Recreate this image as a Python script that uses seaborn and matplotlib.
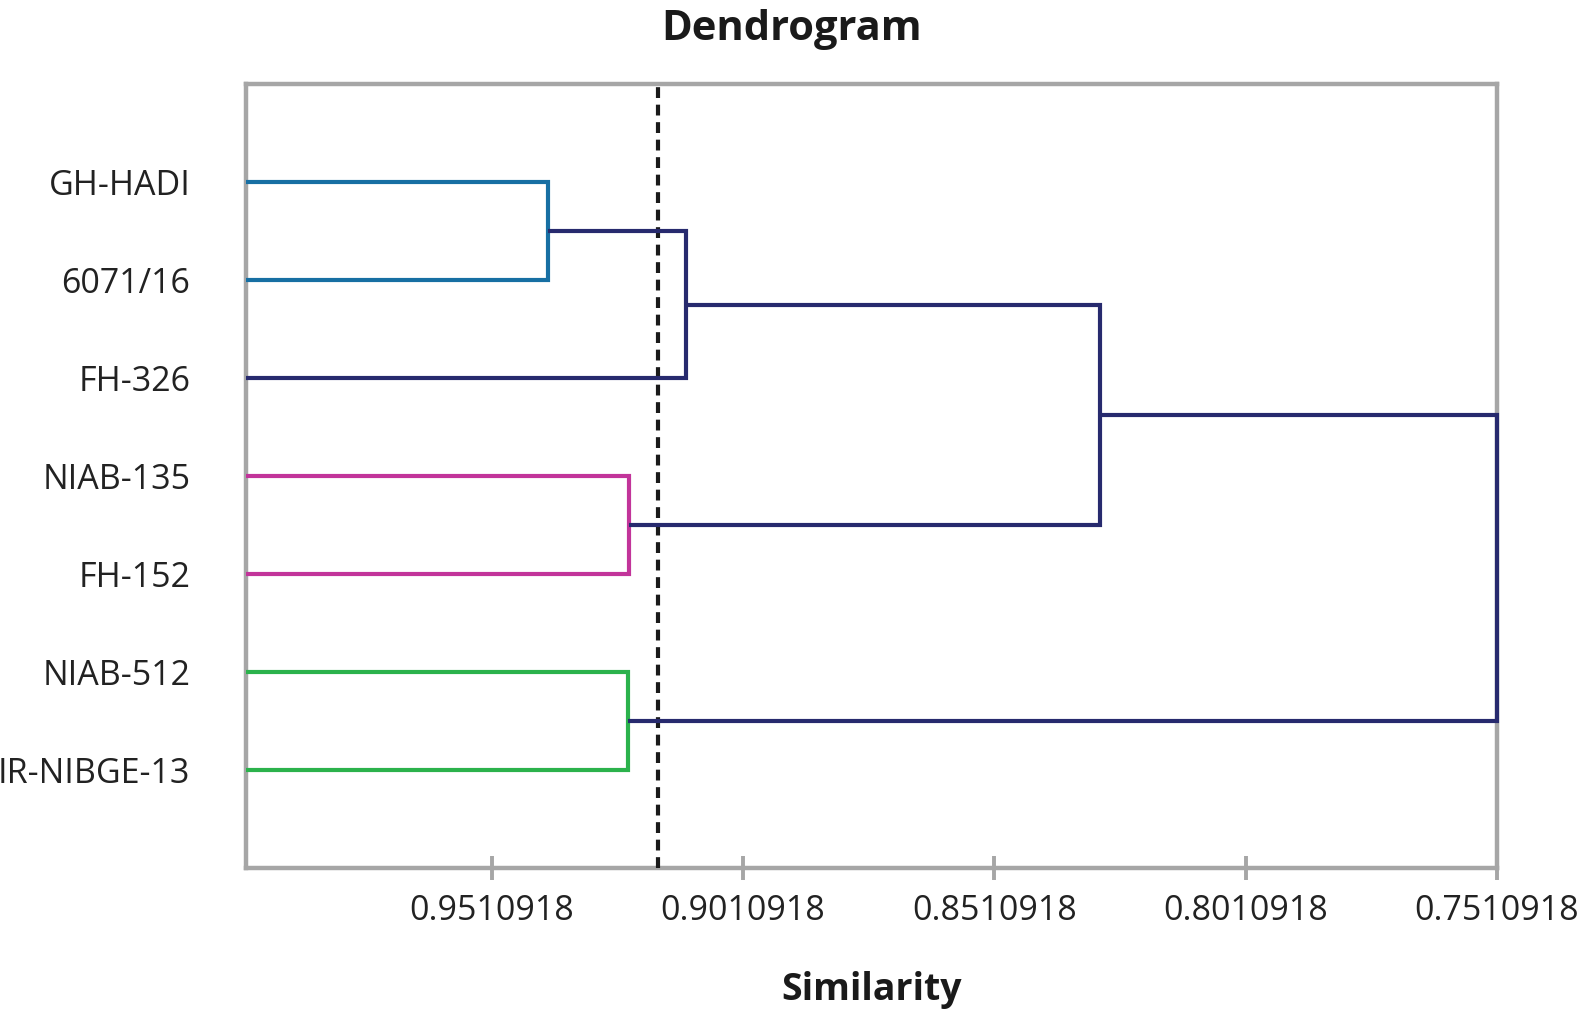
import matplotlib
matplotlib.use("Agg")
import matplotlib.pyplot as plt
import seaborn as sns
import numpy as np

# ---- data ----
leaf_labels = ["GH-HADI", "6071/16", "FH-326", "NIAB-135", "FH-152", "NIAB-512", "IR-NIBGE-13"]
# merges: node ids 0-6 are leaves, each merge creates node 7, 8, ...
merge_left = [0, 7, 3, 5, 8, 11]
merge_right = [1, 2, 4, 6, 9, 10]
merge_height = [0.9399, 0.9124, 0.9238, 0.9240, 0.8301, 0.7510918]
merge_color = ["#176fa3", "#272a6e", "#c2349a", "#2bb24c", "#272a6e", "#272a6e"]
leaf_similarity = 1.0
cut_level = 0.9180
tick_values = [0.9510918, 0.9010918, 0.8510918, 0.8010918, 0.7510918]
tick_labels = ["0.9510918", "0.9010918", "0.8510918", "0.8010918", "0.7510918"]

sns.set_theme(style="white")
plt.rcParams["font.family"] = ["Open Sans", "DejaVu Sans"]

fig = plt.figure(figsize=(15.83, 10.16), dpi=100)
W, H = 1583, 1016
L, R, T, B = 246, 1497, 84, 868
ax = fig.add_axes([L / W, 1 - B / H, (R - L) / W, (B - T) / H])

n = len(leaf_labels)
node_x = {i: leaf_similarity for i in range(n)}
node_y = {i: i + 1 for i in range(n)}
for k, (a, b, h, c) in enumerate(zip(merge_left, merge_right, merge_height, merge_color)):
    nid = n + k
    xa, ya, xb, yb = node_x[a], node_y[a], node_x[b], node_y[b]
    sns.lineplot(x=[xa, h, h, xb], y=[ya, ya, yb, yb], sort=False, estimator=None,
                 color=c, lw=3.0, ax=ax, solid_joinstyle="miter", solid_capstyle="butt",
                 clip_on=False, zorder=6)
    node_x[nid] = h
    node_y[nid] = (ya + yb) / 2

ax.axvline(cut_level, color="#1a1a1a", lw=3.0, ls=(0, (2.6, 1.6)), dash_capstyle="butt", zorder=5)

ax.set_xlim(leaf_similarity, 0.7510918)
ax.set_ylim(n + 1, 0)
ax.set_xticks(tick_values)
ax.set_xticklabels(tick_labels)
ax.set_yticks(range(1, n + 1))
ax.set_yticklabels(leaf_labels)
ax.tick_params(axis="x", direction="inout", length=17, width=2.8, color="#a6a6a6",
               labelsize=24.5, labelcolor="#222222", pad=10, bottom=True)
ax.tick_params(axis="y", length=0, labelsize=24.5, labelcolor="#222222", pad=40)
for s in ax.spines.values():
    s.set_color("#a6a6a6")
    s.set_linewidth(3.2)
    s.set_zorder(1)
ax.set_xlabel("")
ax.set_ylabel("")

fig.text(0.5, 1 - 40 / H, "Dendrogram", ha="center", va="baseline",
         fontsize=30, fontweight="bold", color="#1a1a1a")
fig.text((L + R) / 2 / W, 1 - 1000 / H, "Similarity", ha="center", va="baseline",
         fontsize=27, fontweight="bold", color="#1a1a1a")

fig.savefig("out.png", dpi=100, facecolor="white")
